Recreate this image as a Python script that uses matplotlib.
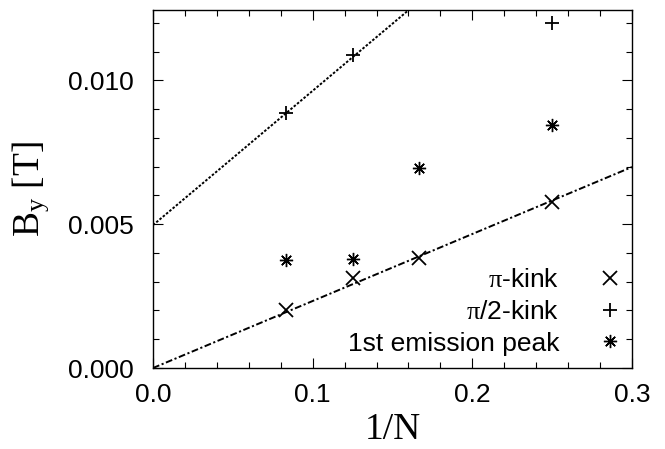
import numpy as np
import matplotlib as mpl
mpl.use('Agg')
import matplotlib.pyplot as plt

# data
pi_x = [1/12., 1/8., 1/6., 1/4.]
pi_y = [0.00201, 0.00314, 0.00382, 0.00579]
half_x = [1/12., 1/8., 1/4.]
half_y = [0.00886, 0.01089, 0.01199]
peak_x = [1/12., 1/8., 1/6., 1/4.]
peak_y = [0.00376, 0.00380, 0.00694, 0.00846]

# fitted lines (intercept, slope)
fit_half = (0.00497, 0.0467)
fit_pi = (0.0, 0.0233)

plt.rcParams['font.family'] = ['Liberation Sans', 'DejaVu Sans']
plt.rcParams['mathtext.fontset'] = 'custom'
plt.rcParams['mathtext.rm'] = 'Liberation Serif'
plt.rcParams['mathtext.it'] = 'Liberation Serif:italic'

fig = plt.figure(figsize=(6.65, 4.49), dpi=100)
ax = fig.add_axes([153/665., 1 - 368/449., (632-153)/665., (368-10)/449.])

xx = np.linspace(0, 0.3, 200)
ax.plot(xx, fit_half[0] + fit_half[1]*xx, color='k', lw=1.4,
        linestyle=(0, (1.3, 0.9)))
ax.plot(xx, fit_pi[0] + fit_pi[1]*xx, color='k', lw=1.4,
        linestyle=(0, (3.5, 1.3, 1.1, 1.3)))

ms = 9.5
ax.plot(pi_x, pi_y, 'x', color='k', ms=ms, mew=1.3, label=r'$\mathrm{\pi}$-kink')
ax.plot(half_x, half_y, '+', color='k', ms=ms+1, mew=1.3,
        label=r'$\mathrm{\pi}$/2-kink')
ax.plot(peak_x, peak_y, linestyle='none', marker=(8, 2, 0), color='k',
        ms=ms, mew=1.0, label='1st emission peak')

ax.set_xlim(0, 0.3)
ax.set_ylim(0, 0.01245)
ax.set_xticks([0.0, 0.1, 0.2, 0.3])
ax.set_xticklabels(['0.0', '0.1', '0.2', '0.3'])
ax.set_yticks([0.0, 0.005, 0.010])
ax.set_yticklabels(['0.000', '0.005', '0.010'])
ax.set_xticks(np.arange(0, 0.3001, 0.02), minor=True)
ax.set_yticks(np.arange(0, 0.0125, 0.001), minor=True)
ax.tick_params(which='both', direction='in', top=True, right=True,
               labelsize=19, width=0.8)
ax.tick_params(which='major', length=7)
ax.tick_params(axis='x', which='major', pad=11)
ax.tick_params(axis='y', which='major', pad=14)
ax.tick_params(which='minor', length=4)
for s in ax.spines.values():
    s.set_linewidth(1.0)

ax.set_xlabel('1/N', family='Liberation Serif', fontsize=27, labelpad=4)
ax.set_ylabel(r'B$_\mathrm{y}$ [T]', family='Liberation Serif', fontsize=27,
              labelpad=12)

ax.legend(loc='lower right', bbox_to_anchor=(1.0, 0.016), frameon=False,
          markerfirst=False, fontsize=19, handlelength=1.2,
          handletextpad=1.3, labelspacing=0.3, borderaxespad=0.0,
          borderpad=0.25)

fig.savefig('out.png', dpi=100)
